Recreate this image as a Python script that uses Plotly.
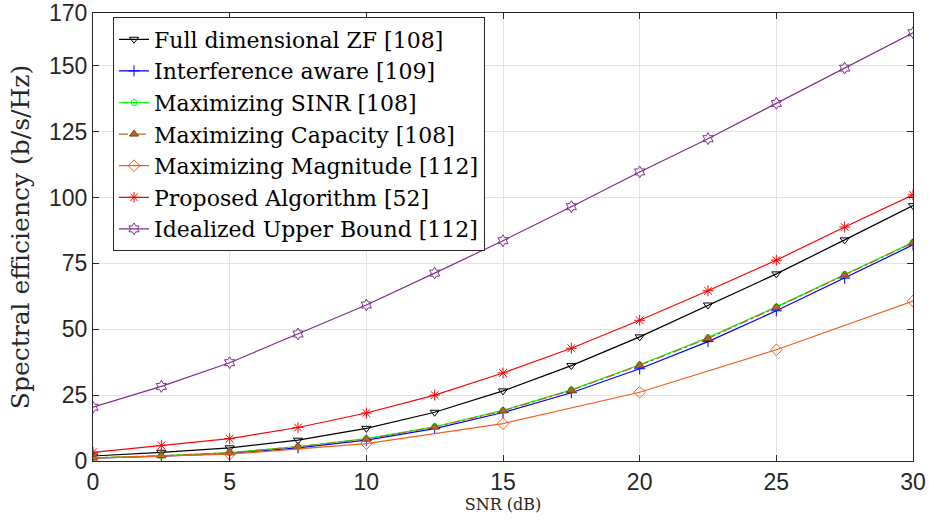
import plotly.graph_objects as go

snr = [0, 2.5, 5, 7.5, 10, 12.5, 15, 17.5, 20, 22.5, 25, 27.5, 30]
snr_mag = [0, 5, 10, 15, 20, 25, 30]

full_zf = [1.9, 3.3, 5.0, 7.9, 12.4, 18.5, 26.6, 36.2, 47.1, 59.2, 71.0, 83.9, 96.9]
interf_aware = [1.1, 1.8, 2.9, 5.0, 7.9, 12.3, 18.4, 25.9, 35.0, 45.3, 57.0, 69.4, 82.0]
max_sinr = [1.2, 2.0, 3.2, 5.5, 8.5, 13.0, 19.2, 27.0, 36.5, 46.8, 58.5, 70.8, 83.0]
max_cap = [1.2, 2.0, 3.1, 5.4, 8.3, 12.9, 19.0, 26.8, 36.3, 46.5, 58.3, 70.6, 82.8]
max_mag = [1.1, 2.6, 6.6, 14.2, 26.1, 42.2, 60.7]
proposed = [3.3, 5.9, 8.5, 12.7, 18.2, 25.0, 33.4, 42.8, 53.4, 64.6, 76.2, 88.8, 101.0]
ideal = [20.4, 28.3, 37.3, 48.2, 59.2, 71.3, 83.6, 96.5, 109.7, 122.3, 135.7, 149.1, 162.5]

x_ticks = [0, 5, 10, 15, 20, 25, 30]
y_ticks = [0, 25, 50, 75, 100, 125, 150, 170]

fig = go.Figure()

def add(x, y, name, color, symbol, dash="solid", msize=7, mfill=None, mline=None):
    fig.add_trace(go.Scatter(
        x=x, y=y, name=name, mode="lines+markers",
        line=dict(color=color, width=1.2, dash=dash),
        marker=dict(symbol=symbol, size=msize, color=mfill if mfill else color,
                    line=dict(color=mline if mline else color, width=1)),
    ))

add(snr, full_zf, "Full dimensional ZF [108]", "#000000", "triangle-down-open", msize=8)
add(snr, interf_aware, "Interference aware [109]", "#0000ff", "cross-thin-open", msize=8)
add(snr, max_sinr, "Maximizing SINR [108]", "#00ff00", "circle-open", msize=6)
add(snr, max_cap, "Maximizing Capacity [108]", "#c0642e", "triangle-up", dash="dashdot",
    msize=8, mfill="#b0643a", mline="#8a3a10")
add(snr_mag, max_mag, "Maximizing Magnitude [112]", "#f0601e", "diamond-open", msize=9)
add(snr, proposed, "Proposed Algorithm [52]", "#ff0000", "asterisk-open", msize=9)
add(snr, ideal, "Idealized Upper Bound [112]", "#7e2f8e", "hexagram-open", msize=9)

axis_common = dict(
    showline=True, linecolor="#262626", linewidth=1, mirror="ticks",
    ticks="inside", ticklen=6, tickcolor="#262626",
    showgrid=True, gridcolor="#e3e3e3", gridwidth=1, zeroline=False,
    ticklabeloverflow="allow", automargin=False,
    tickfont=dict(family="Liberation Sans, Arial", size=23, color="#262626"),
)

fig.update_layout(
    width=929, height=522,
    margin=dict(l=93, r=16, t=13, b=61),
    paper_bgcolor="white", plot_bgcolor="white",
    xaxis=dict(range=[0, 30], tickvals=x_ticks,
               title=dict(text="SNR (dB)", standoff=4,
                          font=dict(family="DejaVu Serif", size=16, color="#262626")),
               **axis_common),
    yaxis=dict(range=[0, 170], tickvals=y_ticks,
               title=dict(text="Spectral efficiency (b/s/Hz)", standoff=12,
                          font=dict(family="DejaVu Serif", size=25, color="#262626")),
               **axis_common),
    legend=dict(x=0.0244, y=0.99, xanchor="left", yanchor="top",
                bgcolor="white", bordercolor="#262626", borderwidth=1,
                font=dict(family="DejaVu Serif", size=22, color="#000000"),
                tracegroupgap=0, itemwidth=30),
    showlegend=True,
)

fig.write_html("out.html", config={"displayModeBar": False},
               post_script="document.body.style.margin='0';")
